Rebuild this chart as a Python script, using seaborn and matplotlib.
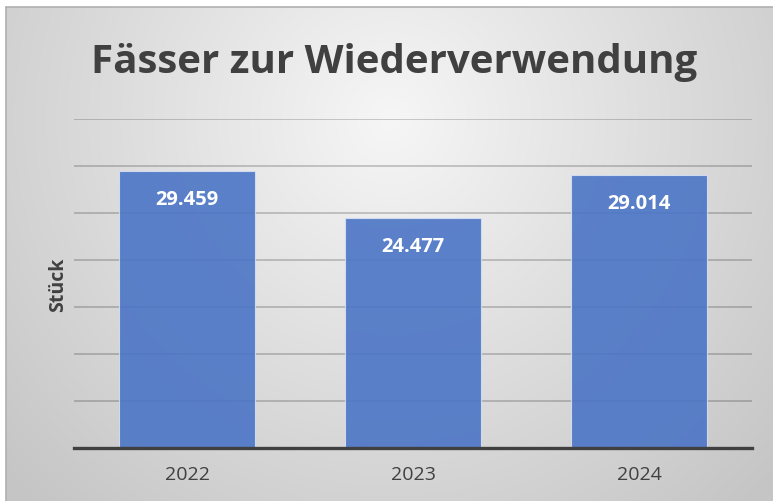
import numpy as np
import pandas as pd
import matplotlib
matplotlib.use("Agg")
import matplotlib.pyplot as plt
import seaborn as sns

# Daten
jahre = ["2022", "2023", "2024"]
stueck = [29459, 24477, 29014]
beschriftung = ["29.459", "24.477", "29.014"]

df = pd.DataFrame({"jahr": jahre, "stueck": stueck})

sns.set_style("white")
plt.rcParams["font.family"] = ["Open Sans", "DejaVu Sans"]

fig = plt.figure(figsize=(7.73, 5.02), dpi=100)

# Hintergrund: radialer Verlauf wie im Original
bg = fig.add_axes([0, 0, 1, 1], zorder=0)
h, w = 502, 773
yy, xx = np.mgrid[0:h, 0:w]
r = np.sqrt(((xx - 390) / 520.0) ** 2 + ((yy - 120) / 520.0) ** 2)
r = np.clip(r, 0, 1)
grau = 0.965 - 0.19 * r
img = np.dstack([grau, grau, grau])
img[:8, :, :] = 1.0
img[:, :6, :] = 1.0
bg.imshow(img, aspect="auto", extent=[0, w, h, 0])
bg.plot([6, w], [7.5, 7.5], color="#b0b0b0", lw=1.2)
bg.plot([6, 6], [7.5, h], color="#b0b0b0", lw=1.2)
bg.set_xlim(0, w)
bg.set_ylim(h, 0)
bg.axis("off")

# Diagramm
ax = fig.add_axes([74 / 773, 53 / 502, 678 / 773, 329 / 502], zorder=1)
ax.patch.set_alpha(0)
ax.set_ylim(0, 35000)
ax.set_yticks(np.arange(5000, 35001, 5000))
ax.grid(axis="y", color="#000000", alpha=0.22, lw=1.2)
ax.set_axisbelow(True)

sns.barplot(data=df, x="jahr", y="stueck", color="#4B75C6", saturation=1,
            width=0.6, alpha=0.9, edgecolor="#d6e0f2", linewidth=0.8,
            ax=ax, zorder=2)

ax.set_ylim(0, 35000)
ax.set_xlim(-0.5, 2.5)
ax.set_yticklabels([])
ax.tick_params(axis="y", length=0, pad=0)
ax.tick_params(axis="x", length=0, labelsize=14, labelcolor="#404040", pad=12)
for s in ["top", "right", "left"]:
    ax.spines[s].set_visible(False)
ax.spines["bottom"].set_color("#404040")
ax.spines["bottom"].set_linewidth(2.4)
ax.spines["bottom"].set_zorder(5)

for i, (v, t) in enumerate(zip(stueck, beschriftung)):
    ax.annotate(t, (i, v), xytext=(0, -20), textcoords="offset points",
                ha="center", va="center", color="white", fontsize=14.5,
                fontweight="bold", zorder=6)

ax.set_xlabel("")
ax.set_ylabel("Stück", fontsize=14, fontweight="bold", color="#404040", labelpad=4)

fig.text(394 / 773, 1 - 62 / 502, "Fässer zur Wiederverwendung", ha="center",
         va="center", fontsize=29, fontweight="bold", color="#404040")

fig.savefig("out.png", dpi=100)
